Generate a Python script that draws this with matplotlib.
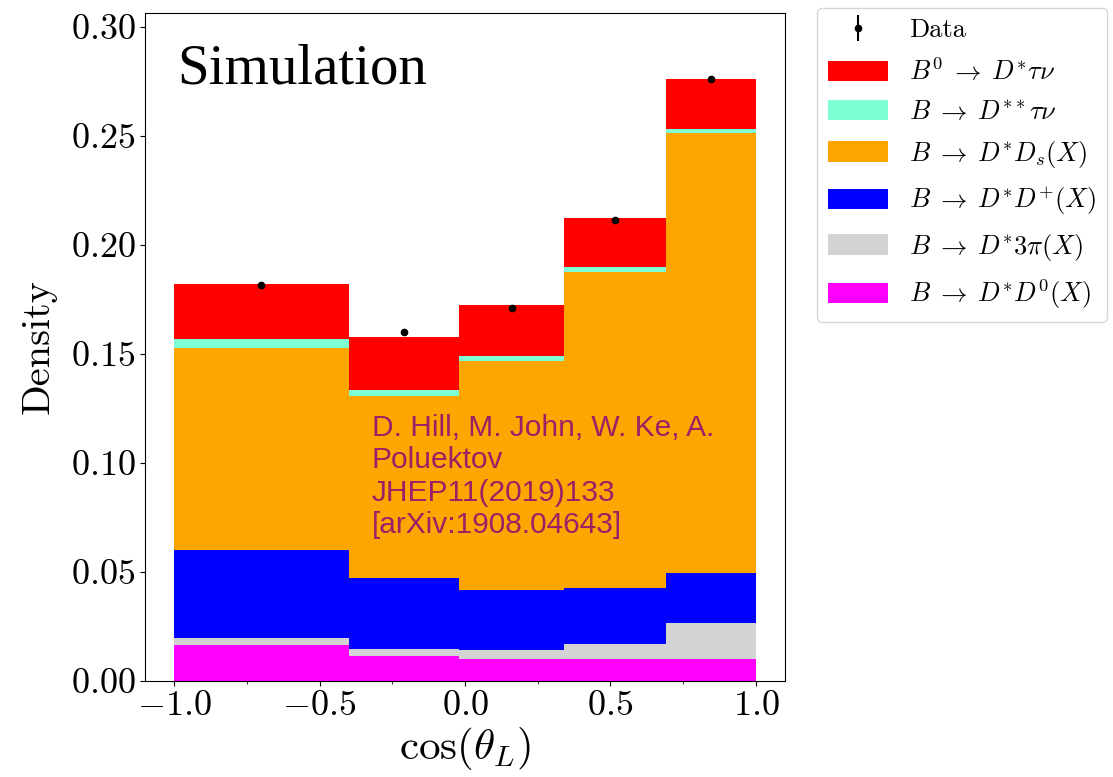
import numpy as np
import matplotlib
matplotlib.use('Agg')
import matplotlib.pyplot as plt
from matplotlib.ticker import AutoMinorLocator

plt.rcParams['font.family'] = 'serif'
plt.rcParams['font.serif'] = ['cmr10']
plt.rcParams['mathtext.fontset'] = 'cm'
plt.rcParams['axes.formatter.use_mathtext'] = True

# bin edges in cos(theta_L)
edges = [-1.0, -0.4, -0.02, 0.34, 0.69, 1.0]

# stacked components, bottom to top
d0 = [0.0165, 0.0115, 0.0101, 0.0101, 0.0101]       # B -> D* D0 (X)
pi3 = [0.0034, 0.0032, 0.0043, 0.0069, 0.0165]      # B -> D* 3pi (X)
dplus = [0.0402, 0.0327, 0.0273, 0.0257, 0.0229]    # B -> D* D+ (X)
ds = [0.0928, 0.0835, 0.1052, 0.1451, 0.2019]       # B -> D* Ds (X)
dss = [0.0040, 0.0026, 0.0023, 0.0021, 0.0018]      # B -> D** tau nu
sig = [0.0252, 0.0243, 0.0233, 0.0225, 0.0229]      # B0 -> D* tau nu

data = [0.1817, 0.1601, 0.1710, 0.2115, 0.2761]
data_err = [0.0008, 0.0008, 0.0008, 0.0008, 0.0009]

labels = [r'$B \;\rightarrow\; D^{*}D^{0}(X)$', r'$B \;\rightarrow\; D^{*}3\pi(X)$',
          r'$B \;\rightarrow\; D^{*}D^{+}(X)$', r'$B \;\rightarrow\; D^{*}D_s(X)$',
          r'$B \;\rightarrow\; D^{**}\tau\nu$', r'$B^0 \;\rightarrow\; D^{*}\tau\nu$']
colors = ['magenta', 'lightgray', 'blue', 'orange', 'aquamarine', 'red']

edges = np.array(edges)
widths = np.diff(edges)
centers = 0.5 * (edges[:-1] + edges[1:])

fig = plt.figure(figsize=(11.13, 7.77), dpi=100)
ax = fig.add_axes([0.1303, 0.1236, 0.575, 0.8597])

bottom = np.zeros(len(widths))
handles = []
for vals, c, lab in zip([d0, pi3, dplus, ds, dss, sig], colors, labels):
    b = ax.bar(edges[:-1], vals, width=widths, bottom=bottom, align='edge',
               color=c, linewidth=0, label=lab)
    handles.append(b)
    bottom = bottom + np.array(vals)

eb = ax.errorbar(centers, data, yerr=data_err, fmt='o', color='k',
                 markersize=4.5, elinewidth=1.5, label='Data')

ax.set_xlim(-1.1, 1.1)
ax.set_ylim(0, bottom.max() * 1.11)
ax.xaxis.set_minor_locator(AutoMinorLocator(2))
ax.tick_params(labelsize=26)
ax.set_xlabel(r'$\cos(\theta_L)$', fontsize=31, labelpad=2)
ax.set_ylabel('Density', fontsize=29, labelpad=10)

ax.text(-0.99, 0.2739, 'Simulation', fontsize=41,
        family=['Liberation Serif', 'DejaVu Serif'], va='baseline')
ax.text(-0.32, 0.1225, 'D. Hill, M. John, W. Ke, A.\nPoluektov\nJHEP11(2019)133\n[arXiv:1908.04643]',
        fontsize=21.5, family='Liberation Sans', color='purple', alpha=0.8,
        va='top', linespacing=1.2)

leg = ax.legend([eb] + handles[::-1], ['Data'] + labels[::-1],
                loc='upper left', bbox_to_anchor=(1.05, 1.008), borderaxespad=0,
                fontsize=19, handlelength=2.3, handleheight=0.8, labelspacing=0.56)

plt.savefig('out.png', dpi=100)
